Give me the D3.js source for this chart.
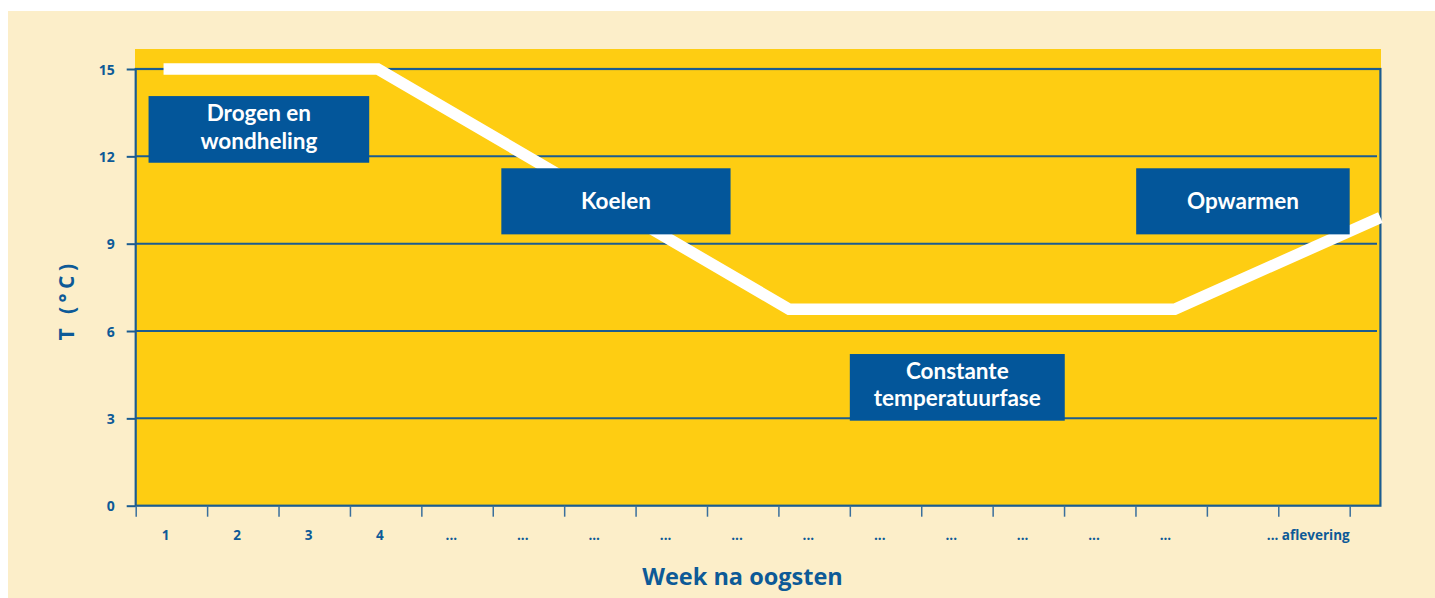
<!DOCTYPE html>
<html>
<head>
<meta charset="utf-8">
<script src="https://cdn.jsdelivr.net/npm/d3@7/dist/d3.min.js"></script>
<style>
  html, body { margin: 0; padding: 0; background: #ffffff; }
  svg { display: block; }
  text { font-family: "Open Sans", "Noto Sans", sans-serif; font-weight: 700; }
</style>
</head>
<body>
<svg id="chart" width="1435" height="598"></svg>
<script>
// ---- data ----
const weekLabels = ["1","2","3","4","...","...","...","...","...","...","...","...","...","...","...","","... aflevering"];
const yTicks = [0, 3, 6, 9, 12, 15];
// temperature profile (x in week-slot units, value in °C)
const profileWeek = [0.39, 3.39, 9.15, 14.55, 17.43];
const profileTemp = [15, 15, 6.75, 6.75, 9.9];
// phase annotations (data units)
const phaseNames = [["Drogen en", "wondheling"], ["Koelen"], ["Constante", "temperatuurfase"], ["Opwarmen"]];
const phaseX0 = [0.18, 5.12, 10.0, 14.01];
const phaseX1 = [3.27, 8.33, 13.01, 17.0];
const phaseYTop = [14.07, 11.59, 5.21, 11.59];
const phaseYBot = [11.78, 9.32, 2.92, 9.32];

// ---- styles ----
const cream = "#FCEEC9", yellow = "#FECD12", blue = "#03569A", axisBlue = "#0D5A97";

const svg = d3.select("#chart");
const x = d3.scaleLinear().domain([0, 17]).range([135.7, 1349.7]);
const y = d3.scaleLinear().domain([0, 15]).range([505.7, 69]);
const xEnd = 17.43;

svg.append("rect").attr("x", 8).attr("y", 11).attr("width", 1427).attr("height", 587).attr("fill", cream);
svg.append("rect").attr("x", 135).attr("y", 49).attr("width", 1381 - 135).attr("height", y(0) - 49).attr("fill", yellow);

// gridlines
svg.append("g").selectAll("line").data(yTicks.filter(d => d > 0 && d < 15)).join("line")
  .attr("x1", x(0)).attr("x2", 1377)
  .attr("y1", d => y(d)).attr("y2", d => y(d))
  .attr("stroke", "#1B5C90").attr("stroke-width", 2);

// frame
svg.append("rect").attr("x", x(0)).attr("y", y(15)).attr("width", x(xEnd) - x(0)).attr("height", y(0) - y(15))
  .attr("fill", "none").attr("stroke", "#1B5C90").attr("stroke-width", 2.2);

// y axis
const yAxis = svg.append("g").attr("transform", `translate(${x(0)},0)`)
  .call(d3.axisLeft(y).tickValues(yTicks).tickSize(9).tickPadding(12));
yAxis.select(".domain").remove();
yAxis.selectAll(".tick line").attr("stroke", "#1B5C90").attr("stroke-width", 2);
yAxis.selectAll(".tick text").attr("fill", axisBlue).attr("font-size", 14).attr("dy", "0.36em")
  .style("font-family", '"Open Sans", sans-serif').style("font-weight", 700);

// x axis ticks
const xAxis = svg.append("g").attr("transform", `translate(0,${y(0)})`)
  .call(d3.axisBottom(x).tickValues(d3.range(18)).tickSize(11).tickFormat(""));
xAxis.select(".domain").remove();
xAxis.selectAll(".tick line").attr("stroke", "#3A6F9C").attr("stroke-width", 1.5);

// x labels
svg.append("g").selectAll("text").data(weekLabels).join("text")
  .attr("x", (d, i) => x(i + 0.42)).attr("y", 540)
  .attr("text-anchor", "middle").attr("fill", axisBlue).attr("font-size", 13.5)
  .text(d => d);

// axis titles
svg.append("text").attr("x", 742.5).attr("y", 585).attr("text-anchor", "middle")
  .attr("fill", axisBlue).attr("font-size", 23.5).text("Week na oogsten");
svg.append("text").attr("transform", "translate(73.5,300) rotate(-90)").attr("text-anchor", "middle")
  .attr("fill", axisBlue).attr("font-size", 21).attr("letter-spacing", 4.5).text("T (°C)");

// profile line
const pts = profileWeek.map((w, i) => [w, profileTemp[i]]);
svg.append("path").datum(pts)
  .attr("d", d3.line().x(d => x(d[0])).y(d => y(d[1])))
  .attr("fill", "none").attr("stroke", "#ffffff").attr("stroke-width", 11.5)
  .attr("stroke-linejoin", "miter").attr("stroke-linecap", "butt");

// phase boxes
const boxes = svg.append("g").selectAll("g").data(phaseNames).join("g");
boxes.append("rect")
  .attr("x", (d, i) => x(phaseX0[i])).attr("y", (d, i) => y(phaseYTop[i]))
  .attr("width", (d, i) => x(phaseX1[i]) - x(phaseX0[i]))
  .attr("height", (d, i) => y(phaseYBot[i]) - y(phaseYTop[i]))
  .attr("fill", blue);
boxes.each(function(lines, i) {
  const cx = (x(phaseX0[i]) + x(phaseX1[i])) / 2;
  const cy = (y(phaseYTop[i]) + y(phaseYBot[i])) / 2;
  const lh = 27.2;
  const g = d3.select(this);
  lines.forEach((ln, j) => {
    g.append("text").attr("text-anchor", "middle").attr("fill", "#ffffff")
      .attr("font-size", 22.5).style("font-family", 'Lato, "Open Sans", sans-serif')
      .attr("x", cx).attr("y", cy + (j - (lines.length - 1) / 2) * lh + (lines.length > 1 ? 5.5 : 8))
      .text(ln);
  });
});
</script>
</body>
</html>
